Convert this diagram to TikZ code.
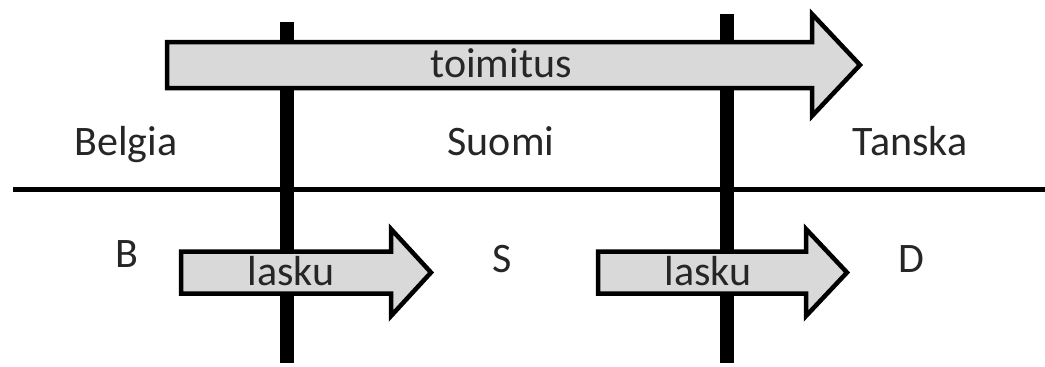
\documentclass[tikz,border=0pt]{standalone}
\usepackage{fontspec}
\setmainfont{Carlito}
\begin{document}
\begin{tikzpicture}[x=1pt,y=-1pt,
  label/.style={font=\fontsize{42}{42}\selectfont, text=black!85, anchor=base, inner sep=0pt},
  flowarrow/.style={draw=black, fill=black!15, line width=4.5pt, line join=miter},
  border/.style={line width=14pt},
  divider/.style={line width=5pt}]
\useasboundingbox (0,0) rectangle (1045,367);

% country borders and the dividing line
\draw[border] (287,22) -- (287,363);
\draw[border] (727,14) -- (727,363);
\draw[divider] (13,189) -- (1045,189);

% delivery arrow
\draw[flowarrow] (167,42) -- (812,42) -- (812,14) -- (860,65) -- (812,116)
  -- (812,88) -- (167,88) -- cycle;
% invoice arrows
\draw[flowarrow] (181,251.5) -- (391,251.5) -- (391,229) -- (431,272.5) -- (391,316)
  -- (391,293.5) -- (181,293.5) -- cycle;
\draw[flowarrow] (598,251.5) -- (806,251.5) -- (806,229) -- (847,272.5) -- (806,316)
  -- (806,293.5) -- (598,293.5) -- cycle;

% texts
\node[label] (toimitus) at (501,77) {toimitus};
\node[label] (belgia) at (126,155) {Belgia};
\node[label] (suomi) at (501,155) {Suomi};
\node[label] (tanska) at (910,155) {Tanska};
\node[label] (b) at (127,267) {B};
\node[label] (s) at (502,272) {S};
\node[label] (d) at (911,272) {D};
\node[label] (lasku1) at (291,285) {lasku};
\node[label] (lasku2) at (708,285) {lasku};
\end{tikzpicture}
\end{document}
